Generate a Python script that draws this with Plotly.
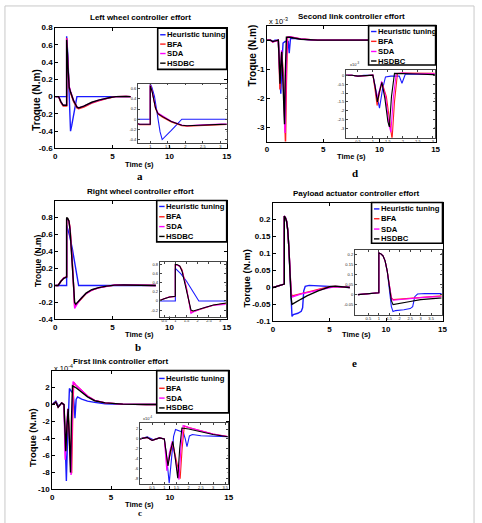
import plotly.graph_objects as go

W, H = 482, 523


def px(x):
    return x / W


def py(y):
    return 1 - y / H


NAMES = ["Heuristic tuning", "BFA", "SDA", "HSDBC"]
COLORS = ["#1a1aff", "#ff1f1f", "#ff00ff", "#000000"]

# ---------------- (a) Left wheel controller effort ----------------
a_t_ht = [0, 1.0, 1.0, 1.05, 1.12, 1.2, 1.28, 1.34, 1.45, 1.6, 1.75, 1.9, 3.0, 6.6]
a_ht = [0, 0, 0.70, 0.62, 0.45, 0.10, -0.25, -0.40, -0.33, -0.22, -0.11, 0.0, 0.0, 0.0]
a_t = [0, 0.3, 0.5, 0.7, 1.0, 1.0, 1.05, 1.1, 1.15, 1.22, 1.35, 1.6, 1.9, 2.05, 2.5,
       3.2, 3.8, 4.3, 4.8, 5.3, 5.8, 6.2, 6.6]
a_bfa = [0, 0, -0.07, -0.11, -0.11, 0.68, 0.56, 0.38, 0.21, 0.10, 0.04, -0.055, -0.13,
         -0.14, -0.12, -0.075, -0.048, -0.027, -0.012, 0.0, 0.005, 0.003, 0.0]
a_sda = [0, 0, -0.06, -0.10, -0.10, 0.67, 0.56, 0.39, 0.23, 0.12, 0.06, -0.04, -0.115,
         -0.13, -0.11, -0.068, -0.042, -0.024, -0.011, 0.0, 0.005, 0.003, 0.0]
a_hs = [0, 0, -0.06, -0.10, -0.10, 0.66, 0.55, 0.38, 0.22, 0.11, 0.05, -0.045, -0.12,
        -0.13, -0.11, -0.065, -0.04, -0.022, -0.01, 0.0, 0.004, 0.003, 0.0]

# ---------------- (b) Right wheel controller effort ----------------
b_t_ht = [0, 1.0, 1.0, 1.25, 1.5, 1.75, 2.05, 3.0, 8.8]
b_ht = [0, 0, 0.71, 0.59, 0.43, 0.22, 0.0, 0.0, 0.0]
b_t = [0, 0.25, 0.5, 0.75, 1.0, 1.0, 1.1, 1.2, 1.3, 1.4, 1.5, 1.6, 1.7, 1.8, 2.0, 2.3,
       2.7, 3.2, 3.8, 4.5, 5.2, 6.0, 7.0, 8.8]
b_bfa = [0, 0.0, 0.05, 0.09, 0.10, 0.79, 0.78, 0.76, 0.68, 0.50, 0.28, 0.0, -0.25, -0.23,
         -0.20, -0.145, -0.095, -0.055, -0.028, -0.01, 0.004, 0.006, 0.002, 0.0]
b_sda = [0, 0.0, 0.05, 0.09, 0.10, 0.79, 0.78, 0.75, 0.66, 0.47, 0.26, 0.02, -0.27, -0.24,
         -0.20, -0.145, -0.095, -0.055, -0.028, -0.01, 0.006, 0.008, 0.003, 0.0]
b_hs = [0, 0.0, 0.05, 0.085, 0.10, 0.80, 0.79, 0.76, 0.65, 0.45, 0.25, 0.05, -0.20, -0.22,
        -0.19, -0.14, -0.09, -0.05, -0.025, -0.008, 0.004, 0.006, 0.002, 0.0]

# ---------------- (c) First link controller effort (x 1e-4) ----------------
c_t_ht = [0, 0.3, 0.55, 0.8, 1.0, 1.08, 1.2, 1.3, 1.38, 1.46, 1.6, 1.78, 1.86, 1.93,
          2.03, 2.15, 2.5, 3.0, 3.6, 4.5, 6, 8, 15]
c_ht = [0, 0.4, -0.2, 0.2, 0.0, -3.0, -9.0, -4.0, 0.5, 1.9, 1.6, 1.3, 0.0, -1.6,
        0.6, 0.9, 0.65, 0.4, 0.25, 0.1, 0.02, 0, 0]
c_t_bfa = [0, 0.3, 0.5, 0.8, 1.0, 1.06, 1.13, 1.22, 1.35, 1.5, 1.65, 1.73, 1.82, 2.0,
           2.5, 3.0, 3.6, 4.5, 6, 8, 15]
c_bfa = [0, 0.3, -0.3, 0.2, 0.0, -2.5, -5.5, -3.5, -1.0, -4.5, -8.1, -2.0, 2.6, 2.3,
         1.6, 1.0, 0.5, 0.2, 0.05, 0, 0]
c_t_sda = [0, 0.3, 0.5, 0.8, 1.0, 1.05, 1.1, 1.2, 1.32, 1.45, 1.6, 1.68, 1.77, 2.0,
           2.5, 3.0, 3.6, 4.5, 6, 8, 15]
c_sda = [0, 0.3, -0.3, 0.2, 0.0, -3.0, -6.5, -3.0, -0.5, -4.0, -8.3, -2.0, 2.7, 2.3,
         1.6, 1.0, 0.5, 0.2, 0.05, 0, 0]
c_t_hs = [0, 0.3, 0.5, 0.8, 1.0, 1.07, 1.15, 1.25, 1.35, 1.45, 1.55, 1.63, 1.72, 2.0,
          2.5, 3.0, 3.6, 4.5, 6, 8, 15]
c_hs = [0, 0.3, -0.3, 0.2, 0.0, -2.5, -5.5, -2.5, -0.5, -4.0, -8.0, -2.0, 2.2, 2.0,
        1.4, 0.9, 0.45, 0.2, 0.05, 0, 0]

# ---------------- (d) Second link controller effort (x 1e-3) ----------------
d_t_ht = [0, 0.3, 0.5, 0.7, 1.0, 1.1, 1.22, 1.32, 1.42, 1.6, 1.88, 1.97, 2.08, 2.3, 3, 4, 15]
d_ht = [0, 0.0, -0.05, 0.0, 0.0, -0.8, -1.85, -0.8, -0.1, -0.05, -0.05, -0.45, 0.05,
        0.06, 0.04, 0.0, 0]
d_t_bfa = [0, 0.3, 0.5, 0.7, 1.0, 1.07, 1.14, 1.22, 1.3, 1.45, 1.58, 1.64, 1.72, 1.82,
           2.0, 2.5, 3.0, 4.5, 15]
d_bfa = [0, 0.0, -0.06, -0.03, 0.0, -0.8, -1.7, -1.0, -0.4, -1.2, -3.0, -3.6, -1.5, 0.1,
         0.12, 0.08, 0.04, 0.0, 0]
d_t_sda = [0, 0.3, 0.5, 0.7, 1.0, 1.07, 1.13, 1.21, 1.29, 1.42, 1.54, 1.6, 1.68, 1.78,
           2.0, 2.5, 3.0, 4.5, 15]
d_sda = [0, 0.0, -0.06, -0.03, 0.0, -0.6, -1.3, -0.9, -0.35, -1.2, -2.8, -3.2, -1.3, 0.1,
         0.12, 0.08, 0.04, 0.0, 0]
d_t_hs = [0, 0.3, 0.5, 0.7, 1.0, 1.08, 1.15, 1.22, 1.3, 1.4, 1.5, 1.55, 1.62, 1.72,
          2.0, 2.5, 3.0, 4.5, 15]
d_hs = [0, 0.0, -0.05, -0.02, 0.0, -0.7, -1.5, -0.9, -0.4, -1.3, -2.6, -2.9, -1.2, 0.1,
        0.1, 0.07, 0.03, 0.0, 0]

# ---------------- (e) Payload actuator controller effort ----------------
e_t_ht = [0, 0.5, 1.0, 1.0, 1.1, 1.2, 1.3, 1.4, 1.5, 1.6, 1.68, 1.8, 2.2, 2.5, 2.62,
          2.72, 2.85, 3.2, 4.0, 5.0, 6.8]
e_ht = [0, 0.005, 0.01, 0.21, 0.205, 0.195, 0.17, 0.12, 0.03, -0.06, -0.085, -0.08,
        -0.076, -0.07, -0.06, -0.01, 0.003, 0.006, 0.005, 0.003, 0.0]
e_t = [0, 0.5, 1.0, 1.0, 1.1, 1.2, 1.3, 1.4, 1.5, 1.6, 1.68, 2.0, 2.5, 3.0, 3.5, 4.0,
       4.5, 5.0, 5.5, 6.2, 6.8]
e_bfa = [0, 0.005, 0.01, 0.21, 0.205, 0.195, 0.17, 0.12, 0.05, -0.015, -0.025, -0.022,
         -0.018, -0.014, -0.01, -0.006, -0.002, 0.002, 0.003, 0.002, 0.0]
e_sda = [0, 0.005, 0.01, 0.21, 0.205, 0.195, 0.17, 0.12, 0.05, -0.017, -0.028, -0.024,
         -0.019, -0.015, -0.011, -0.007, -0.003, 0.001, 0.003, 0.002, 0.0]
e_hs = [0, 0.005, 0.01, 0.21, 0.205, 0.195, 0.17, 0.12, 0.04, -0.03, -0.05, -0.043,
        -0.034, -0.025, -0.017, -0.01, -0.004, 0.002, 0.004, 0.003, 0.0]

# ---------------- tick labels ----------------
main_xticks = [0, 5, 10, 15]
main_xtext = ["0", "5", "10", "15"]
a_yticks = [-0.6, -0.4, -0.2, 0, 0.2, 0.4, 0.6, 0.8]
a_ytext = ["-0.6", "-0.4", "-0.2", "0", "0.2", "0.4", "0.6", "0.8"]
b_yticks = [-0.4, -0.2, 0, 0.2, 0.4, 0.6, 0.8]
b_ytext = ["-0.4", "-0.2", "0", "0.2", "0.4", "0.6", "0.8"]
c_yticks = [-10, -8, -6, -4, -2, 0, 2]
c_ytext = ["-10", "-8", "-6", "-4", "-2", "0", "2"]
d_yticks = [-3, -2, -1, 0]
d_ytext = ["-3", "-2", "-1", "0"]
e_yticks = [-0.1, -0.05, 0, 0.05, 0.1, 0.15, 0.2]
e_ytext = ["-0.1", "-0.05", "0", "0.05", "0.1", "0.15", "0.2"]

ia_xticks = [1, 1.5, 2, 2.5, 3]
ia_yticks = [-0.4, -0.2, 0, 0.2, 0.4, 0.6]
ib_xticks = [0.5, 1, 1.5, 2, 2.5, 3]
ib_yticks = [-0.2, 0, 0.2, 0.4, 0.6, 0.8]
ic_xticks = [0.5, 1, 1.5, 2, 2.5, 3, 3.5]
ic_yticks = [-8, -6, -4, -2, 0, 2]
id_xticks = [0.5, 1, 1.5, 2, 2.5, 3]
id_yticks = [-3, -2.5, -2, -1.5, -1, -0.5, 0]
ie_xticks = [0.5, 1, 1.5, 2, 2.5, 3, 3.5]
ie_yticks = [-0.05, 0, 0.05, 0.1, 0.15, 0.2]


def fmt(v):
    return "%g" % v


panels = [
    dict(title="Left wheel controller effort", ylab="Troque (N.m)", letter="a",
         series=[(a_t_ht, a_ht), (a_t, a_bfa), (a_t, a_sda), (a_t, a_hs)],
         main=((54, 228), (24, 147)), my=(-0.6, 0.8), yt=a_yticks, ytt=a_ytext,
         ins=((138, 228), (81, 141)), ix=(0.65, 3.18), iy=(-0.46, 0.70),
         ixt=ia_xticks, iyt=ia_yticks,
         leg=(158, 228, 24.5, 66.5), rows=[31.3, 40.8, 50.4, 60.2],
         tpos=(141, 14), ypos=(35, 97, 10), xpos=(140, 163), lpos=(140, 175, 11),
         exp=None, iexp=None),
    dict(title="Second link controller effort", ylab="Troque (N.m)", letter="d",
         series=[(d_t_ht, d_ht), (d_t_bfa, d_bfa), (d_t_sda, d_sda), (d_t_hs, d_hs)],
         main=((269, 440), (22, 140)), my=(-3.5, 0.5), yt=d_yticks, ytt=d_ytext,
         ins=((349, 439), (67, 136)), ix=(0.1, 3.06), iy=(-3.5, 0.3),
         ixt=id_xticks, iyt=id_yticks,
         leg=(372, 440, 22, 62), rows=[28, 38, 48.3, 58],
         tpos=(355, 13), ypos=(254, 52, 10), xpos=(355, 155), lpos=(358, 172, 11),
         exp=(269, 17, "-3"), iexp=(351, 66, "-3")),
    dict(title="Right wheel controller effort", ylab="Troque (N.m)", letter="b",
         series=[(b_t_ht, b_ht), (b_t, b_bfa), (b_t, b_sda), (b_t, b_hs)],
         main=((54, 228), (200, 321)), my=(-0.4, 1.0), yt=b_yticks, ytt=b_ytext,
         ins=((160, 227), (263, 318)), ix=(0.3, 3.25), iy=(-0.34, 0.84),
         ixt=ib_xticks, iyt=ib_yticks,
         leg=(157, 228, 200, 242), rows=[206, 216.5, 226.5, 236.5],
         tpos=(141, 191), ypos=(36, 261, 8.5), xpos=(140, 336), lpos=(138, 349, 11),
         exp=None, iexp=None),
    dict(title="Payload actuator controller effort", ylab="Torque (N.m)", letter="e",
         series=[(e_t_ht, e_ht), (e_t, e_bfa), (e_t, e_sda), (e_t, e_hs)],
         main=((275, 447), (202, 323)), my=(-0.1, 0.25), yt=e_yticks, ytt=e_ytext,
         ins=((358, 446), (250, 316)), ix=(-0.15, 4.0), iy=(-0.1, 0.226),
         ixt=ie_xticks, iyt=ie_yticks,
         leg=(375, 447, 202, 243.5), rows=[208.5, 218.5, 229, 239],
         tpos=(360, 193), ypos=(248, 279, 9.5), xpos=(360, 336), lpos=(358, 365, 11),
         exp=None, iexp=None),
    dict(title="First link controller effort", ylab="Troque (N.m)", letter="c",
         series=[(c_t_ht, c_ht), (c_t_bfa, c_bfa), (c_t_sda, c_sda), (c_t_hs, c_hs)],
         main=((51, 230), (373, 494)), my=(-10, 4), yt=c_yticks, ytt=c_ytext,
         ins=((140, 229), (426, 488)), ix=(0.0, 3.6), iy=(-9.1, 3.3),
         ixt=ic_xticks, iyt=ic_yticks,
         leg=(157, 230, 373, 416), rows=[381, 391, 401, 411],
         tpos=(120, 364), ypos=(31, 441, 9.5), xpos=(140, 509), lpos=(140, 518, 9),
         exp=(51, 370, "-4"), iexp=(141, 426, "-4")),
]

FONT = "Liberation Sans, Arial, sans-serif"
fig = go.Figure()
layout = dict(width=W, height=H, margin=dict(l=0, r=0, t=0, b=0),
              paper_bgcolor="white", plot_bgcolor="white", showlegend=False)
shapes = []
annotations = []

# outer frame of the figure page
shapes.append(dict(type="rect", xref="paper", yref="paper", x0=px(3), x1=px(479),
                   y0=py(540), y1=py(2), line=dict(color="#c9c9c9", width=1), layer="below"))

ax_i = 1
for p in panels:
    mi, ii = ax_i, ax_i + 1
    ax_i += 2
    mx = "x" if mi == 1 else "x%d" % mi
    my_ = "y" if mi == 1 else "y%d" % mi
    ix_ = "x%d" % ii
    iy_ = "y%d" % ii
    for (t, v), c in zip(p["series"], COLORS):
        fig.add_trace(go.Scatter(x=t, y=v, mode="lines", line=dict(color=c, width=1.4),
                                 xaxis=mx, yaxis=my_, hoverinfo="skip"))
    for (t, v), c in zip(p["series"], COLORS):
        fig.add_trace(go.Scatter(x=t, y=v, mode="lines", line=dict(color=c, width=1.1),
                                 xaxis=ix_, yaxis=iy_, hoverinfo="skip"))
    (x0, x1), (y0, y1) = p["main"]
    kx = "xaxis" if mi == 1 else "xaxis%d" % mi
    ky = "yaxis" if mi == 1 else "yaxis%d" % mi
    main_common = dict(showline=True, mirror="ticks", linecolor="black", linewidth=1,
                       ticks="inside", ticklen=3, tickcolor="black", showgrid=False,
                       zeroline=False, tickfont=dict(family=FONT, size=8, color="black",
                                                     weight="bold"))
    layout[kx] = dict(domain=[px(x0), px(x1)], range=[0, 15], anchor=my_,
                      tickvals=main_xticks, ticktext=main_xtext, **main_common)
    layout[ky] = dict(domain=[py(y1), py(y0)], range=list(p["my"]), anchor=mx,
                      tickvals=p["yt"], ticktext=p["ytt"], **main_common)
    (a0, a1), (b0, b1) = p["ins"]
    ins_common = dict(showline=True, mirror="ticks", linecolor="#444", linewidth=0.7,
                      ticks="inside", ticklen=2, tickcolor="#444", tickwidth=0.6,
                      showgrid=False, zeroline=False,
                      tickfont=dict(family=FONT, size=4, color="#222"))
    layout["xaxis%d" % ii] = dict(domain=[px(a0), px(a1)], range=list(p["ix"]), anchor=iy_,
                                  tickvals=p["ixt"], ticktext=[fmt(v) for v in p["ixt"]],
                                  **ins_common)
    layout["yaxis%d" % ii] = dict(domain=[py(b1), py(b0)], range=list(p["iy"]), anchor=ix_,
                                  tickvals=p["iyt"], ticktext=[fmt(v) for v in p["iyt"]],
                                  **ins_common)

    tx, ty = p["tpos"]
    annotations.append(dict(text="<b>%s</b>" % p["title"], x=px(tx), y=py(ty), xref="paper",
                            yref="paper", showarrow=False, xanchor="center", yanchor="middle",
                            font=dict(family=FONT, size=8, color="black")))
    yx, yy, ys = p["ypos"]
    annotations.append(dict(text="<b>%s</b>" % p["ylab"], x=px(yx), y=py(yy), xref="paper",
                            yref="paper", showarrow=False, textangle=-90, xanchor="center",
                            yanchor="middle", font=dict(family=FONT, size=ys, color="black")))
    xx, xy = p["xpos"]
    annotations.append(dict(text="<b>Time (s)</b>", x=px(xx), y=py(xy), xref="paper",
                            yref="paper", showarrow=False, xanchor="center", yanchor="middle",
                            font=dict(family=FONT, size=7.5, color="black")))
    lx, ly, lsz = p["lpos"]
    annotations.append(dict(text="<b>%s</b>" % p["letter"], x=px(lx), y=py(ly), xref="paper",
                            yref="paper", showarrow=False, xanchor="center", yanchor="middle",
                            font=dict(family="Liberation Serif, serif", size=lsz,
                                      color="black")))
    if p["exp"]:
        ex, ey, es = p["exp"]
        annotations.append(dict(text="x 10<sup>%s</sup>" % es, x=px(ex), y=py(ey),
                                xref="paper", yref="paper", showarrow=False, xanchor="left",
                                yanchor="middle",
                                font=dict(family=FONT, size=7.5, color="black")))
    if p["iexp"]:
        ex, ey, es = p["iexp"]
        annotations.append(dict(text="x10<sup>%s</sup>" % es, x=px(ex), y=py(ey),
                                xref="paper", yref="paper", showarrow=False, xanchor="left",
                                yanchor="bottom",
                                font=dict(family=FONT, size=4, color="#222")))

    L, R, T, B = p["leg"]
    shapes.append(dict(type="rect", xref="paper", yref="paper", x0=px(L), x1=px(R),
                       y0=py(B), y1=py(T), fillcolor="white",
                       line=dict(color="black", width=1.6), layer="above"))
    for name, c, ry in zip(NAMES, COLORS, p["rows"]):
        shapes.append(dict(type="line", xref="paper", yref="paper", x0=px(L + 2.5),
                           x1=px(L + 8), y0=py(ry), y1=py(ry),
                           line=dict(color=c, width=1.4), layer="above"))
        annotations.append(dict(text="<b>%s</b>" % name, x=px(L + 7.5), y=py(ry),
                                xref="paper", yref="paper", showarrow=False,
                                xanchor="left", yanchor="middle",
                                font=dict(family=FONT, size=7.7, color="black")))

layout["shapes"] = shapes
layout["annotations"] = annotations
fig.update_layout(**layout)
fig.write_html("out.html")
